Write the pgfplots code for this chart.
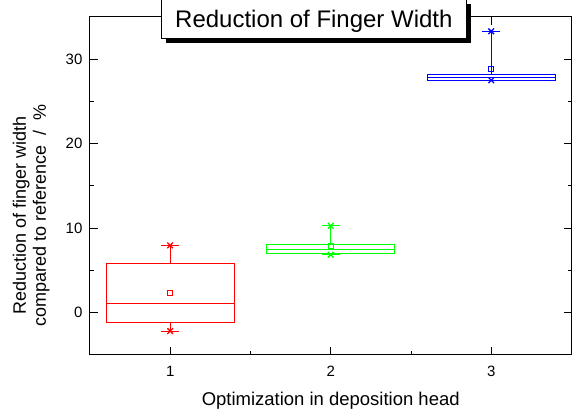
\documentclass[border=0pt]{standalone}
\usepackage{pgfplots}
\pgfplotsset{compat=1.18}
\usepgfplotslibrary{statistics}
\usetikzlibrary{shadows}
\usepackage{fontspec}
\setmainfont{Liberation Sans}

\begin{document}
\begin{tikzpicture}
\begin{axis}[
  scale only axis, width=482pt, height=338pt,
  xmin=0.5, xmax=3.5, ymin=-5, ymax=35,
  xtick={1,2,3}, ytick={0,10,20,30},
  minor x tick num=1, minor y tick num=1,
  tick align=inside, major tick length=8pt, minor tick length=4pt,
  axis line style={line width=1pt},
  every tick/.style={black, line width=0.9pt},
  /pgf/number format/assume math mode=true,
  tick label style={font=\fontsize{15}{15}\selectfont},
  xticklabel style={yshift=-8pt},
  yticklabel style={xshift=-4pt},
  xlabel={Optimization in deposition head},
  xlabel style={font=\fontsize{18.5}{20}\selectfont, at={(axis description cs:0.5,0)}, anchor=base, yshift=-51pt},
  ylabel={Reduction of finger width\\compared to reference~~/~~\%},
  ylabel style={align=center, font=\fontsize{18}{20}\selectfont, at={(axis description cs:-0.122,0.412)}, anchor=center},
  title={Reduction of Finger Width},
  title style={at={(axis description cs:0.465,0.978)}, anchor=center,
    font=\fontsize{24}{24}\selectfont, draw=black, line width=0.8pt, fill=white,
    text height=17.2pt, text depth=0pt, inner ysep=10.9pt, inner xsep=14pt,
    drop shadow={shadow xshift=5pt, shadow yshift=-5pt, fill=black, opacity=1}},
  boxplot/draw direction=y,
  boxplot/box extend=0.8,
  boxplot/whisker extend=0.11,
  boxplot/every median/.style={line width=0.9pt},
  boxplot/every average/.style={/tikz/mark=square, /tikz/mark size=2.5pt},
]
% group 1
\addplot[red, line width=0.9pt, boxplot prepared={draw position=1,
  lower whisker=-2.2, lower quartile=-1.2, median=1.1,
  upper quartile=5.8, upper whisker=7.95, average=2.3}] coordinates {};
\addplot[red, only marks, mark=x, mark size=4pt, line width=1.3pt] coordinates {(1,-2.2) (1,7.95)};
% group 2
\addplot[green, line width=0.9pt, boxplot prepared={draw position=2,
  lower whisker=6.85, lower quartile=6.95, median=7.45,
  upper quartile=8.07, upper whisker=10.27, average=7.9}] coordinates {};
\addplot[green, only marks, mark=x, mark size=4pt, line width=1.3pt] coordinates {(2,6.85) (2,10.27)};
% group 3
\addplot[blue, line width=0.9pt, boxplot prepared={draw position=3,
  lower whisker=27.5, lower quartile=27.45, median=27.85,
  upper quartile=28.18, upper whisker=33.3, average=28.9}] coordinates {};
\addplot[blue, only marks, mark=x, mark size=4pt, line width=1.3pt] coordinates {(3,27.5) (3,33.3)};
\end{axis}
\pgfresetboundingbox
\useasboundingbox (-90pt,-59pt) rectangle (482.5pt,355pt);
\end{tikzpicture}
\end{document}
